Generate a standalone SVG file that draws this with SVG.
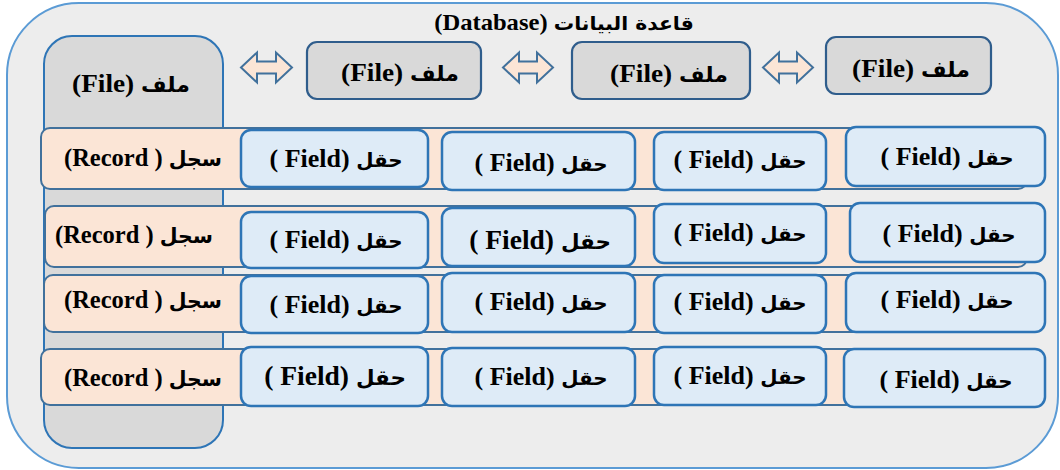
<svg xmlns="http://www.w3.org/2000/svg" width="1060" height="470" viewBox="0 0 1060 470">
<style>
text{font-family:"Liberation Serif","Times New Roman",serif;font-weight:bold;fill:#000;text-anchor:middle;direction:rtl;unicode-bidi:embed}
.ar{font-family:"DejaVu Sans",sans-serif}
.title{font-size:23px}
.title .ar{font-size:19px}
.fl{font-size:26px}
.fl .ar{font-size:21px}
.rc{font-size:24.5px}
.rc .ar{font-size:20.5px}
.t{font-size:25.5px}
.t .ar{font-size:19.5px}
.tb{font-size:27px}
.tb .ar{font-size:21px}
.outer{fill:#ededed;stroke:#5b9bd5;stroke-width:2}
.col{fill:#d9d9d9;stroke:#2e75b6;stroke-width:2}
.file{fill:#d9d9d9;stroke:#2f5d8c;stroke-width:2.2}
.rec{fill:#fbe5d6;stroke:#41719c;stroke-width:2}
.fld{fill:#deebf7;stroke:#2e75b6;stroke-width:2.5}
.arr{fill:#fbe5d6;stroke:#41719c;stroke-width:2;stroke-linejoin:miter}
</style>
<rect width="1060" height="470" fill="#ffffff"/>
<g id="database">
<rect class="outer" x="7" y="3" width="1051" height="465" rx="72" ry="72"/>
<text class="title" transform="translate(564 30) scale(1.07 1)"><tspan class="ar">قاعدة البيانات</tspan> (Database)</text>
</g>
<g id="file-main">
<rect class="col" x="44" y="36" width="179" height="412" rx="28" ry="28"/>
<text class="fl" transform="translate(131 92) scale(1.05 1)"><tspan class="ar">ملف</tspan> (File)</text>
</g>
<g id="file-1">
<rect class="file" x="307" y="42" width="174" height="57" rx="10" ry="10"/>
<text class="fl" transform="translate(400 81) scale(1.05 1)"><tspan class="ar">ملف</tspan> (File)</text>
</g>
<g id="file-2">
<rect class="file" x="572" y="42" width="178" height="57" rx="10" ry="10"/>
<text class="fl" transform="translate(669 82) scale(1.05 1)"><tspan class="ar">ملف</tspan> (File)</text>
</g>
<g id="file-3">
<rect class="file" x="826" y="37" width="165" height="57" rx="10" ry="10"/>
<text class="fl" transform="translate(911 77) scale(1.05 1)"><tspan class="ar">ملف</tspan> (File)</text>
</g>
<g id="connectors">
<path class="arr" d="M241 67.5 L257 52.5 L257 61.5 L276 61.5 L276 52.5 L292 67.5 L276 82.5 L276 73.5 L257 73.5 L257 82.5 Z"/>
<path class="arr" d="M503 67.5 L519 52.5 L519 61.5 L537 61.5 L537 52.5 L553 67.5 L537 82.5 L537 73.5 L519 73.5 L519 82.5 Z"/>
<path class="arr" d="M763 67.5 L779 52.5 L779 61.5 L797 61.5 L797 52.5 L813 67.5 L797 82.5 L797 73.5 L779 73.5 L779 82.5 Z"/>
</g>
<g id="record-1">
<rect class="rec" x="41" y="128" width="986" height="61" rx="9" ry="9"/>
<text class="rc" x="143" y="166"><tspan class="ar">سجل</tspan> ( Record)</text>
</g>
<g id="record-2">
<rect class="rec" x="45" y="206" width="982" height="61" rx="9" ry="9"/>
<text class="rc" x="134" y="243"><tspan class="ar">سجل</tspan> ( Record)</text>
</g>
<g id="record-3">
<rect class="rec" x="44" y="275" width="983" height="57" rx="9" ry="9"/>
<text class="rc" x="143" y="308"><tspan class="ar">سجل</tspan> ( Record)</text>
</g>
<g id="record-4">
<rect class="rec" x="41" y="349" width="986" height="56" rx="9" ry="9"/>
<text class="rc" x="143" y="386"><tspan class="ar">سجل</tspan> ( Record)</text>
</g>
<g id="field-r1c1"><rect class="fld" x="241" y="130" width="187" height="57" rx="10" ry="10"/><text class="t" transform="translate(336 167) scale(1.02 1)"><tspan class="ar">حقل</tspan> (Field )</text></g>
<g id="field-r1c2"><rect class="fld" x="442" y="132" width="193" height="58" rx="10" ry="10"/><text class="t" transform="translate(541 171) scale(1.02 1)"><tspan class="ar">حقل</tspan> (Field )</text></g>
<g id="field-r1c3"><rect class="fld" x="654" y="132" width="172" height="58" rx="10" ry="10"/><text class="t" transform="translate(740 168) scale(1.02 1)"><tspan class="ar">حقل</tspan> (Field )</text></g>
<g id="field-r1c4"><rect class="fld" x="846" y="127" width="199" height="59" rx="10" ry="10"/><text class="t" transform="translate(947 165) scale(1.02 1)"><tspan class="ar">حقل</tspan> (Field )</text></g>
<g id="field-r2c1"><rect class="fld" x="241" y="212" width="187" height="56" rx="10" ry="10"/><text class="t" transform="translate(336 248) scale(1.02 1)"><tspan class="ar">حقل</tspan> (Field )</text></g>
<g id="field-r2c2"><rect class="fld" x="442" y="208" width="193" height="58" rx="10" ry="10"/><text class="tb" transform="translate(540 249) scale(1.02 1)"><tspan class="ar">حقل</tspan> (Field )</text></g>
<g id="field-r2c3"><rect class="fld" x="654" y="204" width="172" height="59" rx="10" ry="10"/><text class="t" transform="translate(740 241) scale(1.02 1)"><tspan class="ar">حقل</tspan> (Field )</text></g>
<g id="field-r2c4"><rect class="fld" x="850" y="203" width="195" height="59" rx="10" ry="10"/><text class="t" transform="translate(949 242) scale(1.02 1)"><tspan class="ar">حقل</tspan> (Field )</text></g>
<g id="field-r3c1"><rect class="fld" x="241" y="276" width="187" height="57" rx="10" ry="10"/><text class="t" transform="translate(336 313) scale(1.02 1)"><tspan class="ar">حقل</tspan> (Field )</text></g>
<g id="field-r3c2"><rect class="fld" x="442" y="273" width="193" height="59" rx="10" ry="10"/><text class="t" transform="translate(541 310) scale(1.02 1)"><tspan class="ar">حقل</tspan> (Field )</text></g>
<g id="field-r3c3"><rect class="fld" x="654" y="275" width="172" height="58" rx="10" ry="10"/><text class="t" transform="translate(740 310) scale(1.02 1)"><tspan class="ar">حقل</tspan> (Field )</text></g>
<g id="field-r3c4"><rect class="fld" x="846" y="273" width="199" height="59" rx="10" ry="10"/><text class="t" transform="translate(947 308) scale(1.02 1)"><tspan class="ar">حقل</tspan> (Field )</text></g>
<g id="field-r4c1"><rect class="fld" x="241" y="347" width="187" height="59" rx="10" ry="10"/><text class="tb" transform="translate(335 385) scale(1.02 1)"><tspan class="ar">حقل</tspan> (Field )</text></g>
<g id="field-r4c2"><rect class="fld" x="442" y="348" width="193" height="58" rx="10" ry="10"/><text class="t" transform="translate(541 385) scale(1.02 1)"><tspan class="ar">حقل</tspan> (Field )</text></g>
<g id="field-r4c3"><rect class="fld" x="654" y="347" width="172" height="58" rx="10" ry="10"/><text class="t" transform="translate(740 384) scale(1.02 1)"><tspan class="ar">حقل</tspan> (Field )</text></g>
<g id="field-r4c4"><rect class="fld" x="844" y="349" width="201" height="58" rx="10" ry="10"/><text class="t" transform="translate(946 388) scale(1.02 1)"><tspan class="ar">حقل</tspan> (Field )</text></g>
</svg>
